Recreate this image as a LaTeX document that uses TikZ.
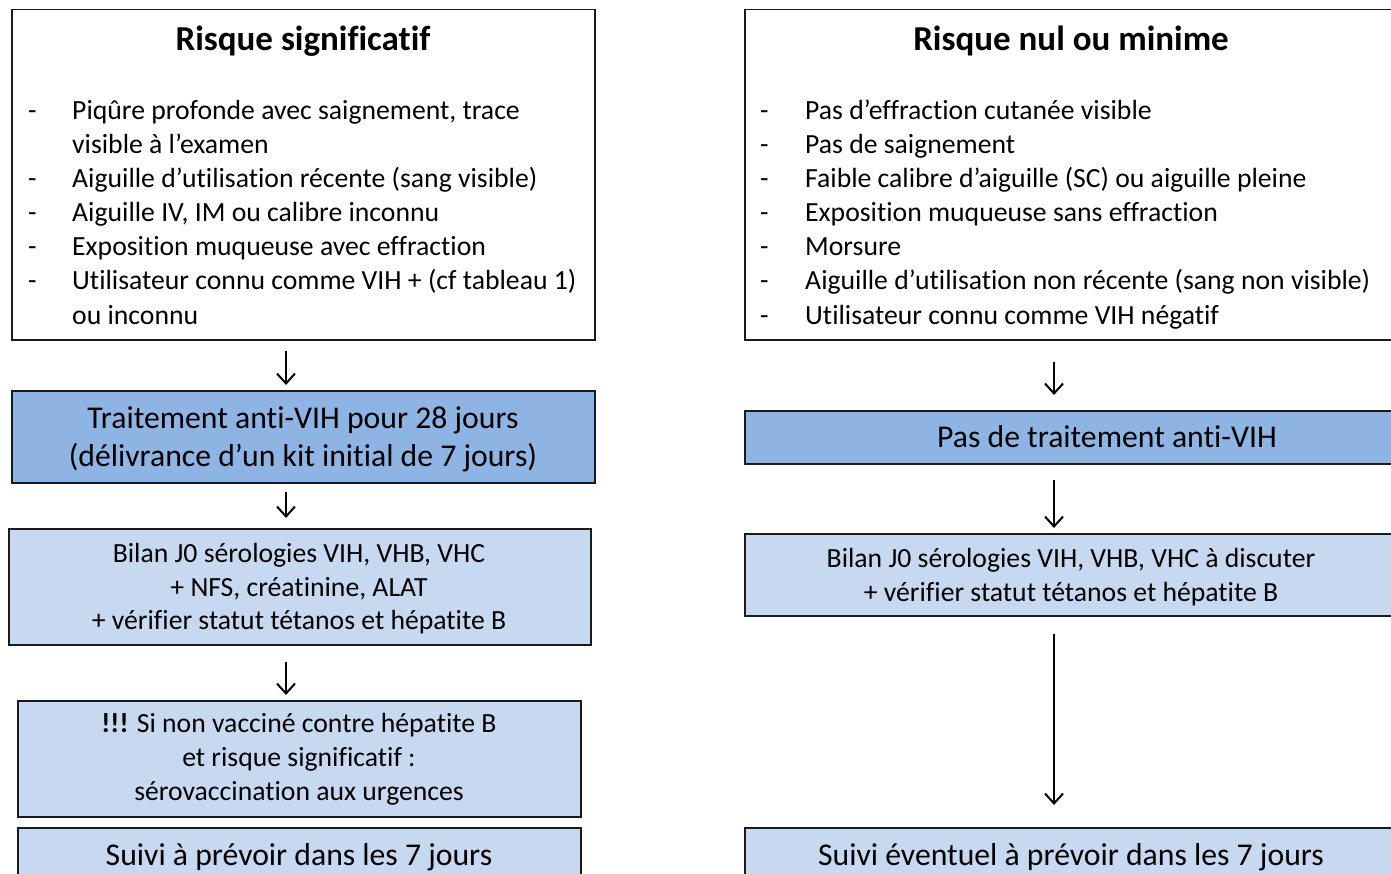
\documentclass[tikz,border=0pt]{standalone}
\usepackage{fontspec}
\setmainfont{Carlito}[Ligatures=NoCommon]
\usetikzlibrary{arrows.meta}
\definecolor{darkblue}{HTML}{8EB4E3}
\definecolor{lightblue}{HTML}{C6D9F1}
\definecolor{edge}{HTML}{1A1A1A}
\begin{document}
\begin{tikzpicture}[x=1pt,y=-1pt,
  box/.style={draw=edge, line width=1.5pt, inner sep=0pt, anchor=north west},
  whitebox/.style={box, fill=white},
  darkbox/.style={box, fill=darkblue},
  lightbox/.style={box, fill=lightblue},
  body/.style={inner sep=0pt, anchor=base west, font=\fontsize{27.7}{33.7}\selectfont},
  bodyc/.style={inner sep=0pt, anchor=base, font=\fontsize{27.7}{33.7}\selectfont},
  bigc/.style={inner sep=0pt, anchor=base, font=\fontsize{31.7}{38}\selectfont},
  titlec/.style={inner sep=0pt, anchor=base, font=\fontsize{35}{40}\selectfont\bfseries},
  bulletdash/.style={inner sep=0pt, anchor=base west, font=\fontsize{27.7}{33.7}\selectfont},
  arr/.style={draw=black, line width=2pt, -{Straight Barb[length=10pt,width=18pt]}}
]
\useasboundingbox (0,0) rectangle (1391,874);
\begin{scope}
\clip (0,0) rectangle (1391,874);
% ---------------- left column ----------------
\node[whitebox, minimum width=583pt, minimum height=330pt] (Ltop) at (11,9) {};
\node[titlec] (Ltitle) at (303,51) {Risque significatif};
\node[bulletdash] (Ld1) at (28,120) {-};
\node[body] (Lt1) at (72,120) {Piqûre profonde avec saignement, trace};
\node[body] (Lt1b) at (72,154) {visible à l’examen};
\node[bulletdash] (Ld2) at (28,188) {-};
\node[body] (Lt2) at (72,188) {Aiguille d’utilisation récente (sang visible)};
\node[bulletdash] (Ld3) at (28,222) {-};
\node[body] (Lt3) at (72,222) {Aiguille IV, IM ou calibre inconnu};
\node[bulletdash] (Ld4) at (28,256) {-};
\node[body] (Lt4) at (72,256) {Exposition muqueuse avec effraction};
\node[bulletdash] (Ld5) at (28,290) {-};
\node[body] (Lt5) at (72,290) {Utilisateur connu comme VIH + (cf tableau 1)};
\node[body] (Lt5b) at (72,324) {ou inconnu};

\node[darkbox, minimum width=583pt, minimum height=92pt] (Ltreat) at (11,390) {};
\node[bigc] (Ltreat1) at (303,428) {Traitement anti-VIH pour 28 jours};
\node[bigc] (Ltreat2) at (303,466) {(délivrance d’un kit initial de 7 jours)};

\node[lightbox, minimum width=582pt, minimum height=116pt] (Lbilan) at (8,528) {};
\node[bodyc] (Lbilan1) at (299,562) {Bilan J0 sérologies VIH, VHB, VHC};
\node[bodyc] (Lbilan2) at (299,596) {+ NFS, créatinine, ALAT};
\node[bodyc] (Lbilan3) at (299,629) {+ vérifier statut tétanos et hépatite B};

\node[lightbox, minimum width=563pt, minimum height=116pt] (Lhep) at (17,700) {};
\node[bodyc] (Lhep1) at (299,732) {\textbf{!!!} Si non vacciné contre hépatite B};
\node[bodyc] (Lhep2) at (299,766) {et risque significatif :};
\node[bodyc] (Lhep3) at (299,800) {sérovaccination aux urgences};

\node[lightbox, minimum width=563pt, minimum height=58pt] (Lsuivi) at (17,827) {};
\node[bigc] (Lsuivi1) at (299,865) {Suivi à prévoir dans les 7 jours};

% ---------------- right column ----------------
\node[whitebox, minimum width=654pt, minimum height=330pt] (Rtop) at (744,9) {};
\node[titlec] (Rtitle) at (1071,51) {Risque nul ou minime};
\node[bulletdash] (Rd1) at (760,120) {-};
\node[body] (Rt1) at (805,120) {Pas d’effraction cutanée visible};
\node[bulletdash] (Rd2) at (760,154) {-};
\node[body] (Rt2) at (805,154) {Pas de saignement};
\node[bulletdash] (Rd3) at (760,188) {-};
\node[body] (Rt3) at (805,188) {Faible calibre d’aiguille (SC) ou aiguille pleine};
\node[bulletdash] (Rd4) at (760,222) {-};
\node[body] (Rt4) at (805,222) {Exposition muqueuse sans effraction};
\node[bulletdash] (Rd5) at (760,256) {-};
\node[body] (Rt5) at (805,256) {Morsure};
\node[bulletdash] (Rd6) at (760,290) {-};
\node[body] (Rt6) at (805,290) {Aiguille d’utilisation non récente (sang non visible)};
\node[bulletdash] (Rd7) at (760,324) {-};
\node[body] (Rt7) at (805,324) {Utilisateur connu comme VIH négatif};

\node[darkbox, minimum width=726pt, minimum height=53pt] (Rtreat) at (744,410) {};
\node[bigc] (Rtreat1) at (1107,447) {Pas de traitement anti-VIH};

\node[lightbox, minimum width=654pt, minimum height=82pt] (Rbilan) at (744,533) {};
\node[bodyc] (Rbilan1) at (1071,567) {Bilan J0 sérologies VIH, VHB, VHC à discuter};
\node[bodyc] (Rbilan2) at (1071,601) {+ vérifier statut tétanos et hépatite B};

\node[lightbox, minimum width=654pt, minimum height=58pt] (Rsuivi) at (744,827) {};
\node[bigc] (Rsuivi1) at (1071,865) {Suivi éventuel à prévoir dans les 7 jours};

% ---------------- arrows ----------------
\coordinate (axL) at (286,0);
\coordinate (axR) at (1054,0);
\draw[arr, shorten <=10pt, shorten >=5pt] (Ltop.south -| axL) -- (Ltreat.north -| axL);
\draw[arr, shorten <=8pt, shorten >=10pt] (Ltreat.south -| axL) -- (Lbilan.north -| axL);
\draw[arr, shorten <=16pt, shorten >=5pt] (Lbilan.south -| axL) -- (Lhep.north -| axL);
\draw[arr, shorten <=21pt, shorten >=15pt] (Rtop.south -| axR) -- (Rtreat.north -| axR);
\draw[arr, shorten <=15pt, shorten >=5pt] (Rtreat.south -| axR) -- (Rbilan.north -| axR);
\draw[arr, shorten <=17pt, shorten >=22pt] (Rbilan.south -| axR) -- (Rsuivi.north -| axR);
\end{scope}
\end{tikzpicture}
\end{document}
